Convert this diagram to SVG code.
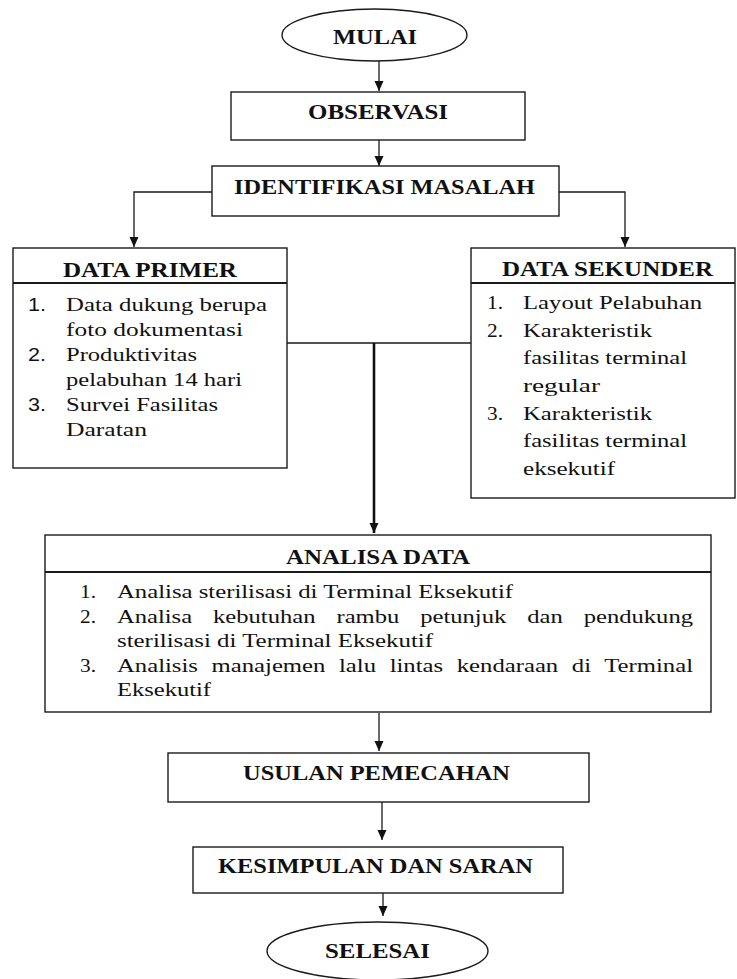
<svg xmlns="http://www.w3.org/2000/svg" width="737" height="979" viewBox="0 0 737 979">
<style>
.box{fill:#fff;stroke:#1a1a1a;stroke-width:1.4}
.div{stroke:#1a1a1a;stroke-width:1.8;fill:none}
.ln{stroke:#1a1a1a;stroke-width:1.3;fill:none}
.thick{stroke:#111;stroke-width:2.6;fill:none}
.h{font-family:"Liberation Serif","Times New Roman",serif;font-weight:bold;font-size:22px;fill:#111}
.t{font-family:"Liberation Serif","Times New Roman",serif;font-size:19.5px;fill:#111}
.n{font-family:"Liberation Sans",Arial,sans-serif;font-size:19px;fill:#111}
</style>
<defs>
<marker id="arr" markerUnits="userSpaceOnUse" markerWidth="10" markerHeight="10" refX="10" refY="5" orient="auto">
<path d="M0,0.5 L10,5 L0,9.5 z" fill="#111"/>
</marker>
</defs>
<rect width="737" height="979" fill="#fff"/>

<g id="connectors">
<line class="ln" x1="379" y1="61" x2="379" y2="91" marker-end="url(#arr)"/>
<line class="ln" x1="379" y1="140" x2="379" y2="166" marker-end="url(#arr)"/>
<polyline class="ln" points="212,192 134,192 134,247" marker-end="url(#arr)"/>
<polyline class="ln" points="559,192 625,192 625,247" marker-end="url(#arr)"/>
<line class="ln" x1="287" y1="343" x2="471" y2="343"/>
<line class="thick" x1="374" y1="343" x2="374" y2="533" marker-end="url(#arr)"/>
<line class="ln" x1="379" y1="713" x2="379" y2="751" marker-end="url(#arr)"/>
<line class="ln" x1="382" y1="802" x2="382" y2="840" marker-end="url(#arr)"/>
<line class="ln" x1="383" y1="893" x2="383" y2="916" marker-end="url(#arr)"/>
</g>

<g id="mulai">
<ellipse class="box" cx="374.5" cy="35" rx="92.5" ry="26"/>
<text class="h" x="333" y="44" textLength="84" lengthAdjust="spacingAndGlyphs">MULAI</text>
</g>

<g id="observasi">
<rect class="box" x="231" y="92" width="294" height="48"/>
<text class="h" x="308" y="119" textLength="140" lengthAdjust="spacingAndGlyphs">OBSERVASI</text>
</g>

<g id="identifikasi">
<rect class="box" x="212" y="166" width="347" height="50"/>
<text class="h" x="234" y="194" textLength="301" lengthAdjust="spacingAndGlyphs">IDENTIFIKASI MASALAH</text>
</g>

<g id="data-primer">
<rect class="box" x="13" y="248" width="274" height="220"/>
<line class="div" x1="13" y1="283" x2="287" y2="283"/>
<text class="h" x="63" y="277" textLength="174" lengthAdjust="spacingAndGlyphs">DATA PRIMER</text>
<text class="n" x="28" y="311" textLength="18" lengthAdjust="spacingAndGlyphs">1.</text>
<text class="t" x="66" y="311" textLength="201" lengthAdjust="spacingAndGlyphs">Data dukung berupa</text>
<text class="t" x="66" y="336" textLength="177" lengthAdjust="spacingAndGlyphs">foto dokumentasi</text>
<text class="n" x="28" y="361" textLength="18" lengthAdjust="spacingAndGlyphs">2.</text>
<text class="t" x="66" y="361" textLength="131" lengthAdjust="spacingAndGlyphs">Produktivitas</text>
<text class="t" x="66" y="386" textLength="176" lengthAdjust="spacingAndGlyphs">pelabuhan 14 hari</text>
<text class="n" x="28" y="411" textLength="18" lengthAdjust="spacingAndGlyphs">3.</text>
<text class="t" x="66" y="411" textLength="152" lengthAdjust="spacingAndGlyphs">Survei Fasilitas</text>
<text class="t" x="66" y="436" textLength="81" lengthAdjust="spacingAndGlyphs">Daratan</text>
</g>

<g id="data-sekunder">
<rect class="box" x="471" y="248" width="264" height="250"/>
<line class="div" x1="471" y1="283" x2="735" y2="283"/>
<text class="h" x="502" y="276" textLength="211" lengthAdjust="spacingAndGlyphs">DATA SEKUNDER</text>
<text class="t" x="487" y="309" textLength="16" lengthAdjust="spacingAndGlyphs">1.</text>
<text class="t" x="523" y="309" textLength="179" lengthAdjust="spacingAndGlyphs">Layout Pelabuhan</text>
<text class="t" x="487" y="336.5" textLength="16" lengthAdjust="spacingAndGlyphs">2.</text>
<text class="t" x="523" y="336.5" textLength="129" lengthAdjust="spacingAndGlyphs">Karakteristik</text>
<text class="t" x="523" y="364" textLength="164" lengthAdjust="spacingAndGlyphs">fasilitas terminal</text>
<text class="t" x="523" y="392" textLength="77" lengthAdjust="spacingAndGlyphs">regular</text>
<text class="t" x="487" y="419.5" textLength="16" lengthAdjust="spacingAndGlyphs">3.</text>
<text class="t" x="523" y="419.5" textLength="129" lengthAdjust="spacingAndGlyphs">Karakteristik</text>
<text class="t" x="523" y="447" textLength="164" lengthAdjust="spacingAndGlyphs">fasilitas terminal</text>
<text class="t" x="523" y="474.5" textLength="92" lengthAdjust="spacingAndGlyphs">eksekutif</text>
</g>

<g id="analisa-data">
<rect class="box" x="45" y="535" width="666" height="177"/>
<line class="div" x1="45" y1="572" x2="711" y2="572"/>
<text class="h" x="286" y="564" textLength="184" lengthAdjust="spacingAndGlyphs">ANALISA DATA</text>
<text class="t" x="80" y="598" textLength="16" lengthAdjust="spacingAndGlyphs">1.</text>
<text class="t" x="117" y="598" textLength="396" lengthAdjust="spacingAndGlyphs">Analisa sterilisasi di Terminal Eksekutif</text>
<text class="t" x="80" y="623" textLength="16" lengthAdjust="spacingAndGlyphs">2.</text>
<text class="t" x="117" y="623" word-spacing="11.8" textLength="576" lengthAdjust="spacingAndGlyphs">Analisa kebutuhan rambu petunjuk dan pendukung</text>
<text class="t" x="117" y="647" textLength="316" lengthAdjust="spacingAndGlyphs">sterilisasi di Terminal Eksekutif</text>
<text class="t" x="80" y="672" textLength="16" lengthAdjust="spacingAndGlyphs">3.</text>
<text class="t" x="117" y="672" word-spacing="5.9" textLength="576" lengthAdjust="spacingAndGlyphs">Analisis manajemen lalu lintas kendaraan di Terminal</text>
<text class="t" x="117" y="696" textLength="94" lengthAdjust="spacingAndGlyphs">Eksekutif</text>
</g>

<g id="usulan">
<rect class="box" x="168" y="753" width="421" height="49"/>
<text class="h" x="243" y="780" textLength="267" lengthAdjust="spacingAndGlyphs">USULAN PEMECAHAN</text>
</g>

<g id="kesimpulan">
<rect class="box" x="193" y="847" width="370" height="46"/>
<text class="h" x="218" y="873" textLength="315" lengthAdjust="spacingAndGlyphs">KESIMPULAN DAN SARAN</text>
</g>

<g id="selesai">
<ellipse class="box" cx="377.5" cy="951" rx="110.5" ry="29"/>
<text class="h" x="325" y="958" textLength="105" lengthAdjust="spacingAndGlyphs">SELESAI</text>
</g>
</svg>
